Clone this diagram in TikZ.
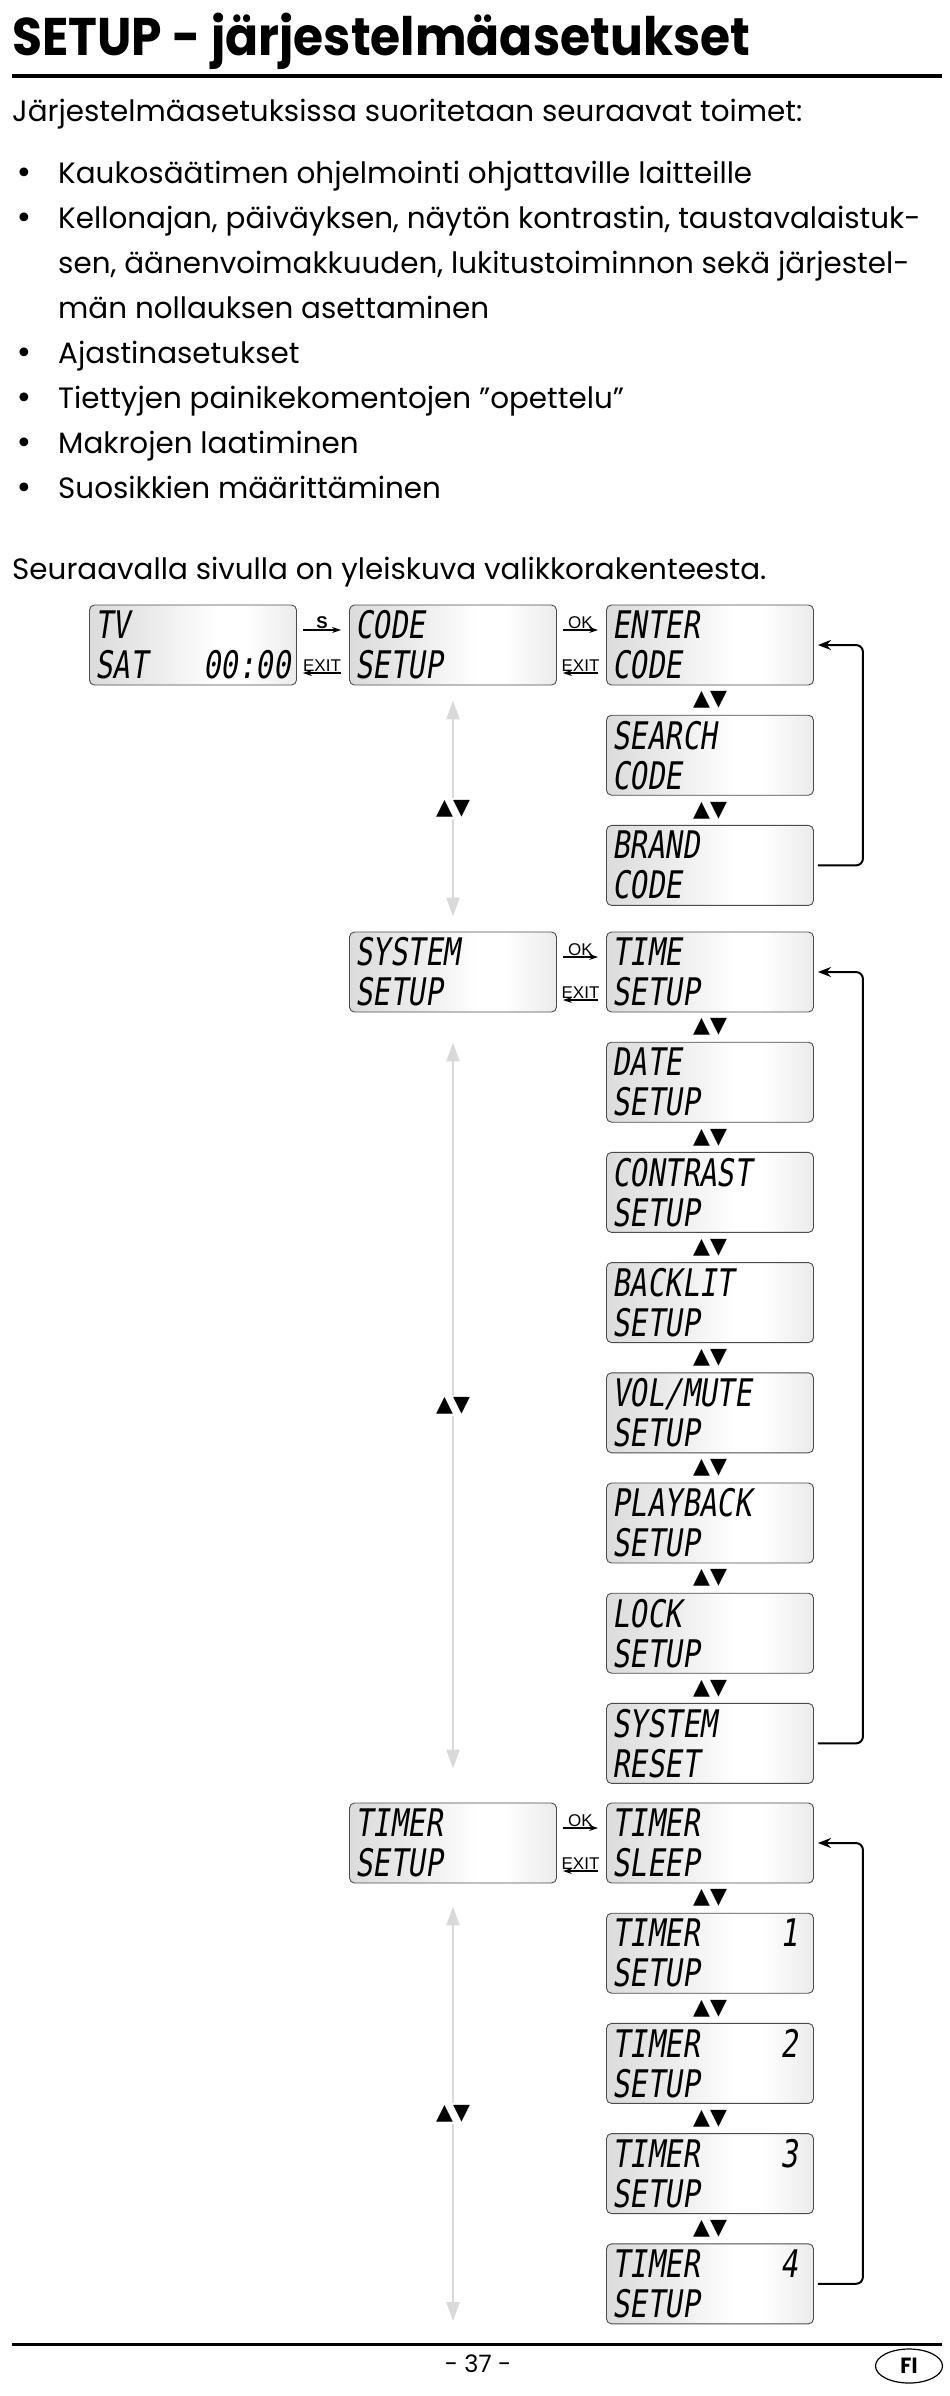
\documentclass[tikz,border=0pt]{standalone}
\usepackage{fontspec}
\setmainfont{Poppins}
\newfontfamily\titlefont{Poppins}[FakeStretch=0.92]
\newfontfamily\lcdfont{DejaVu Sans Mono}[FakeSlant=0.15, FakeStretch=0.76]
\newfontfamily\keyfont{Liberation Sans}
\newfontfamily\symfont{DejaVu Sans}
\usetikzlibrary{positioning, arrows.meta, shapes.geometric}

\colorlet{lcdA}{gray!28}
\colorlet{lcdB}{gray!16}
\colorlet{lcdC}{white}
\colorlet{lcdD}{gray!8}
\colorlet{lcdE}{gray!16}
\pgfdeclarehorizontalshading{lcdshade}{100bp}{color(0bp)=(lcdA); color(25bp)=(lcdA); color(40bp)=(lcdB); color(56bp)=(lcdC); color(62.5bp)=(lcdC); color(69bp)=(lcdD); color(75bp)=(lcdE); color(100bp)=(lcdE)}

\newcommand{\itembullet}{{\symfont\fontsize{30}{45}\selectfont\hspace*{3pt}•}}

\begin{document}
\begin{tikzpicture}[
    x=1pt, y=-1pt,
    lcd/.style={draw=gray!60!black, line width=0.9pt, rounded corners=5pt, shade, shading=lcdshade, minimum width=207pt, minimum height=80pt, text width=195pt, inner xsep=6pt, inner ysep=0pt, align=left, font=\lcdfont\fontsize{38}{40}\selectfont},
    key/.style={-{Stealth[length=9pt, width=6pt]}, line width=1.2pt},
    keylabel/.style={above=1pt, inner sep=0pt, font=\keyfont\fontsize{17}{17}\selectfont},
    updown/.style={{Triangle[length=19pt, width=13pt]}-{Triangle[length=19pt, width=13pt]}, draw=gray!30, line width=2.5pt},
    navsym/.style={fill=white, text=black, inner sep=2pt, font=\symfont\fontsize{22}{22}\selectfont},
    back/.style={-{Stealth[length=13pt, width=10pt]}, line width=2pt, rounded corners=7pt},
    body/.style={font=\fontsize{29.4}{45}\selectfont, inner sep=0pt}
]
\useasboundingbox (0,0) rectangle (950,2396);

% ================= Text =================

\node[anchor=base west, inner sep=0pt, font=\titlefont\bfseries\fontsize{53}{53}\selectfont] (title) at (12, 55) {SETUP - järjestelmäasetukset};
\draw[line width=4pt] (12, 76) -- (942, 76);

\node[body, anchor=base west] (intro) at (12, 121) {Järjestelmäasetuksissa suoritetaan seuraavat toimet:};

\node[body, anchor=base west] (items) at (12, 183) {%
\begin{tabular}[t]{@{}p{46pt}@{}l@{}}
\itembullet & Kaukosäätimen ohjelmointi ohjattaville laitteille\\
\itembullet & Kellonajan, päiväyksen, näytön kontrastin, taustavalaistuk-\\
 & sen, äänenvoimakkuuden, lukitustoiminnon sekä järjestel-\\
 & män nollauksen asettaminen\\
\itembullet & Ajastinasetukset\\
\itembullet & Tiettyjen painikekomentojen "opettelu"\\
\itembullet & Makrojen laatiminen\\
\itembullet & Suosikkien määrittäminen
\end{tabular}};

\node[body, anchor=base west] (overview) at (12, 579) {Seuraavalla sivulla on yleiskuva valikkorakenteesta.};

% ================= Displays =================

% Start display and code setup
\node[lcd] (tv) at (193, 645) {TV\\SAT\hfill 00:00};
\node[lcd] (codesetup) at (453, 645) {CODE\\SETUP};
\node[lcd] (enter) at (710, 645) {ENTER\\CODE};
\node[lcd, below=29.3pt of enter] (search) {SEARCH\\CODE};
\node[lcd, below=29.3pt of search] (brand) {BRAND\\CODE};

% System setup
\node[lcd] (syssetup) at (453, 972) {SYSTEM\\SETUP};
\node[lcd] (time) at (710, 972) {TIME\\SETUP};
\node[lcd, below=29.3pt of time] (date) {DATE\\SETUP};
\node[lcd, below=29.3pt of date] (contrast) {CONTRAST\\SETUP};
\node[lcd, below=29.3pt of contrast] (backlit) {BACKLIT\\SETUP};
\node[lcd, below=29.3pt of backlit] (volmute) {VOL/MUTE\\SETUP};
\node[lcd, below=29.3pt of volmute] (playback) {PLAYBACK\\SETUP};
\node[lcd, below=29.3pt of playback] (lock) {LOCK\\SETUP};
\node[lcd, below=29.3pt of lock] (sysreset) {SYSTEM\\RESET};

% Timer setup
\node[lcd] (timersetup) at (453, 1843) {TIMER\\SETUP};
\node[lcd] (sleep) at (710, 1843) {TIMER\\SLEEP};
\node[lcd, below=29.3pt of sleep] (timerone) {TIMER\hfill 1\kern10pt\\SETUP};
\node[lcd, below=29.3pt of timerone] (timertwo) {TIMER\hfill 2\kern10pt\\SETUP};
\node[lcd, below=29.3pt of timertwo] (timerthree) {TIMER\hfill 3\kern10pt\\SETUP};
\node[lcd, below=29.3pt of timerthree] (timerfour) {TIMER\hfill 4\kern10pt\\SETUP};

\coordinate (wrap) at (453, 2321);

% ================= Keys =================

\draw[key] ([shift={(6,-15)}]tv.east) -- ([shift={(-8,-15)}]codesetup.west) node[midway, keylabel] {\bfseries S};
\draw[key] ([shift={(-8,28)}]codesetup.west) -- ([shift={(6,28)}]tv.east) node[midway, keylabel] {EXIT};

\draw[key] ([shift={(6,-15)}]codesetup.east) -- ([shift={(-8,-15)}]enter.west) node[midway, keylabel] {OK};
\draw[key] ([shift={(-8,28)}]enter.west) -- ([shift={(6,28)}]codesetup.east) node[midway, keylabel] {EXIT};

\draw[key] ([shift={(6,-15)}]syssetup.east) -- ([shift={(-8,-15)}]time.west) node[midway, keylabel] {OK};
\draw[key] ([shift={(-8,28)}]time.west) -- ([shift={(6,28)}]syssetup.east) node[midway, keylabel] {EXIT};

\draw[key] ([shift={(6,-15)}]timersetup.east) -- ([shift={(-8,-15)}]sleep.west) node[midway, keylabel] {OK};
\draw[key] ([shift={(-8,28)}]sleep.west) -- ([shift={(6,28)}]timersetup.east) node[midway, keylabel] {EXIT};

% Up/down between main menus
\draw[updown] ([shift={(0,15)}]codesetup.south) -- ([shift={(0,-15)}]syssetup.north) node[midway, navsym] {▲▼};
\draw[updown] ([shift={(0,30)}]syssetup.south) -- ([shift={(0,-34)}]timersetup.north) node[midway, navsym] {▲▼};
\draw[updown] ([shift={(0,23)}]timersetup.south) -- (wrap) node[midway, navsym] {▲▼};

% Up/down inside submenus
\path (enter) -- (search) node[midway, navsym] {▲▼};
\path (search) -- (brand) node[midway, navsym] {▲▼};
\path (time) -- (date) node[midway, navsym] {▲▼};
\path (date) -- (contrast) node[midway, navsym] {▲▼};
\path (contrast) -- (backlit) node[midway, navsym] {▲▼};
\path (backlit) -- (volmute) node[midway, navsym] {▲▼};
\path (volmute) -- (playback) node[midway, navsym] {▲▼};
\path (playback) -- (lock) node[midway, navsym] {▲▼};
\path (lock) -- (sysreset) node[midway, navsym] {▲▼};
\path (sleep) -- (timerone) node[midway, navsym] {▲▼};
\path (timerone) -- (timertwo) node[midway, navsym] {▲▼};
\path (timertwo) -- (timerthree) node[midway, navsym] {▲▼};
\path (timerthree) -- (timerfour) node[midway, navsym] {▲▼};

% Wrap around to first entry
\draw[back] ([xshift=4pt]brand.east) -- ++(45,0) |- ([xshift=4pt]enter.east);
\draw[back] ([xshift=4pt]sysreset.east) -- ++(45,0) |- ([xshift=4pt]time.east);
\draw[back] ([xshift=4pt]timerfour.east) -- ++(45,0) |- ([xshift=4pt]sleep.east);

% ================= Footer =================

\draw[line width=3pt] (12, 2344) -- (942, 2344);
\node[anchor=base, inner sep=0pt, font=\fontsize{24}{24}\selectfont] (page) at (478, 2372) {- 37 -};
\node[draw, ellipse, line width=1.2pt, minimum width=67pt, minimum height=34pt, inner sep=0pt, font=\titlefont\bfseries\fontsize{22}{22}\selectfont] (lang) at (909, 2366) {FI};

\end{tikzpicture}
\end{document}
